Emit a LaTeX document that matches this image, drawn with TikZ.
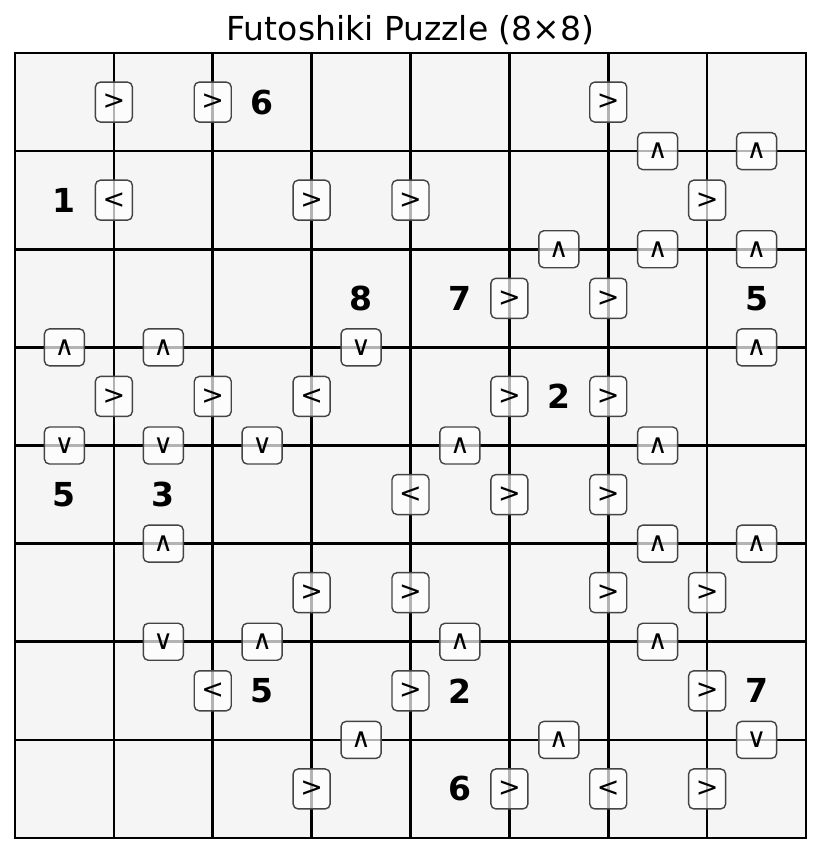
\documentclass[tikz,border=0pt]{standalone}
\usepackage{fontspec}
\setmainfont{DejaVu Sans}
\definecolor{cellbg}{HTML}{F5F5F5}
\definecolor{boxedge}{HTML}{444444}
\tikzset{
  gridline/.style={line width=2.6pt, draw=black, line cap=rect},
  signbox/.style={draw=boxedge, line width=1.4pt, fill=white, fill opacity=0.7, text opacity=1,
    rounded corners=5pt, inner sep=0pt, font=\fontsize{27}{27}\selectfont},
  hsign/.style={signbox, minimum width=37pt, minimum height=40pt},
  vsign/.style={signbox, minimum width=40pt, minimum height=37pt},
  given/.style={font=\fontsize{33}{33}\selectfont\bfseries, inner sep=0pt},
  titletext/.style={font=\fontsize{33}{33}\selectfont, inner sep=0pt}
}
\begin{document}
\begin{tikzpicture}[x=1pt,y=-1pt]
\useasboundingbox (0,0) rectangle (820,853);
\node[titletext] (title) at (410.5,30) {Futoshiki Puzzle (8×8)};
\fill[cellbg] (15,53) rectangle (806,838);
\foreach \i in {0,...,8} {
  \draw[gridline] ({15+98.875*\i},53) -- ({15+98.875*\i},838);
  \draw[gridline] (15,{53+98.125*\i}) -- (806,{53+98.125*\i});
}
% horizontal inequality signs: row / left column / sign
\foreach \r/\c/\s [count=\k] in {
  0/0/>, 0/1/>, 0/5/>,
  1/0/<, 1/2/>, 1/3/>, 1/6/>,
  2/4/>, 2/5/>,
  3/0/>, 3/1/>, 3/2/<, 3/4/>, 3/5/>,
  4/3/<, 4/4/>, 4/5/>,
  5/2/>, 5/3/>, 5/5/>, 5/6/>,
  6/1/<, 6/3/>, 6/6/>,
  7/2/>, 7/4/>, 7/5/<, 7/6/>}
  \node[hsign] (h\k) at ({15+98.875*(\c+1)},{53+98.125*(\r+0.5)}) {\s};
% vertical inequality signs: top row / column / sign
\foreach \r/\c/\s [count=\k] in {
  0/6/∧, 0/7/∧,
  1/5/∧, 1/6/∧, 1/7/∧,
  2/0/∧, 2/1/∧, 2/3/∨, 2/7/∧,
  3/0/∨, 3/1/∨, 3/2/∨, 3/4/∧, 3/6/∧,
  4/1/∧, 4/6/∧, 4/7/∧,
  5/1/∨, 5/2/∧, 5/4/∧, 5/6/∧,
  6/3/∧, 6/5/∧, 6/7/∨}
  \node[vsign] (v\k) at ({15+98.875*(\c+0.5)},{53+98.125*(\r+1)}) {\s};
% given numbers
\foreach \r/\c/\n [count=\k] in {
  0/2/6, 1/0/1, 2/3/8, 2/4/7, 2/7/5, 3/5/2,
  4/0/5, 4/1/3, 6/2/5, 6/4/2, 6/7/7, 7/4/6}
  \node[given] (n\k) at ({15+98.875*(\c+0.5)},{53+98.125*(\r+0.5)}) {\n};
\end{tikzpicture}
\end{document}
